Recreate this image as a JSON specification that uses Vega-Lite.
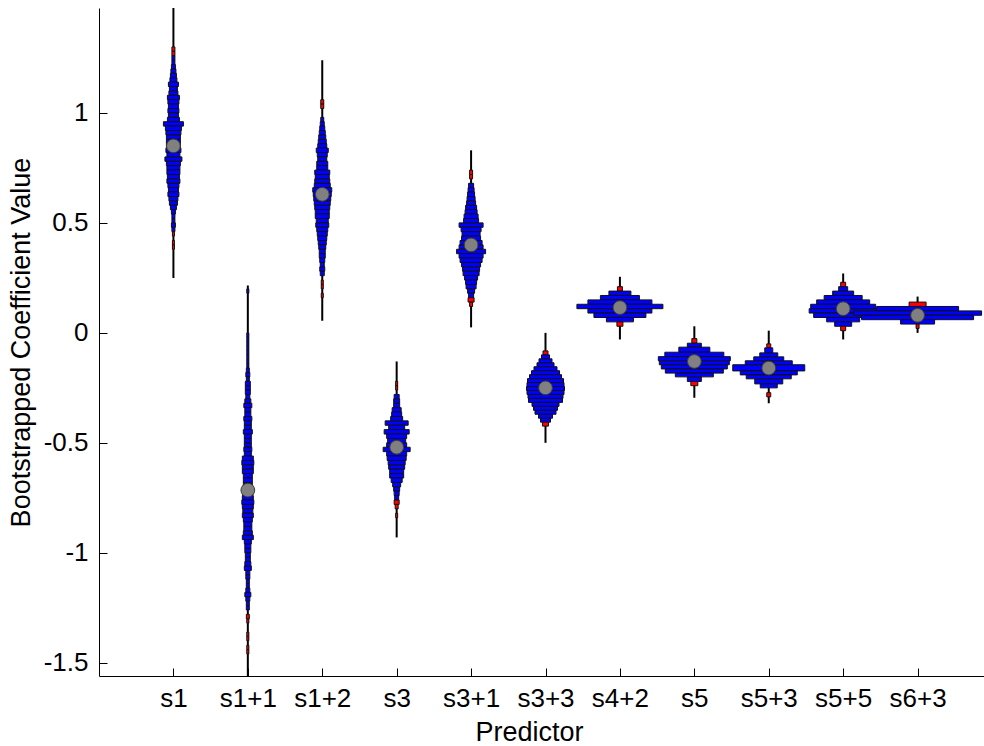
{
  "$schema": "https://vega.github.io/schema/vega-lite/v6.json",
  "autosize": {"type": "none"},
  "width": 893,
  "height": 668,
  "padding": {"left": 99, "top": 8, "right": 0, "bottom": 70},
  "background": "white",
  "config": {
    "font": "Liberation Sans",
    "view": {"stroke": null},
    "axis": {"grid": false, "domainColor": "#000000", "tickColor": "#000000", "labelColor": "#000000", "titleColor": "#000000", "titleFontWeight": "normal", "tickSize": -8, "labelFontSize": 26, "labelFont": "Liberation Sans", "titleFont": "Liberation Sans", "titleFontSize": 27},
    "axisY": {"labelPadding": 19, "titleX": -64},
    "axisX": {"labelPadding": 17, "labelAngle": 0, "titleX": 430, "titleY": 64, "titleBaseline": "alphabetic"}
  },
  "datasets": {
    "bins": [
      {"p":"s1","lo":1.28,"hi":1.30,"n":3,"t":"r"},
      {"p":"s1","lo":1.26,"hi":1.28,"n":3,"t":"r"},
      {"p":"s1","lo":1.24,"hi":1.26,"n":3,"t":"b"},
      {"p":"s1","lo":1.22,"hi":1.24,"n":3,"t":"b"},
      {"p":"s1","lo":1.20,"hi":1.22,"n":4,"t":"b"},
      {"p":"s1","lo":1.18,"hi":1.20,"n":5,"t":"b"},
      {"p":"s1","lo":1.16,"hi":1.18,"n":6,"t":"b"},
      {"p":"s1","lo":1.14,"hi":1.16,"n":7,"t":"b"},
      {"p":"s1","lo":1.12,"hi":1.14,"n":10,"t":"b"},
      {"p":"s1","lo":1.10,"hi":1.12,"n":8,"t":"b"},
      {"p":"s1","lo":1.08,"hi":1.10,"n":9,"t":"b"},
      {"p":"s1","lo":1.06,"hi":1.08,"n":12,"t":"b"},
      {"p":"s1","lo":1.04,"hi":1.06,"n":11,"t":"b"},
      {"p":"s1","lo":1.02,"hi":1.04,"n":10,"t":"b"},
      {"p":"s1","lo":1.00,"hi":1.02,"n":11,"t":"b"},
      {"p":"s1","lo":0.98,"hi":1.00,"n":10,"t":"b"},
      {"p":"s1","lo":0.96,"hi":0.98,"n":12,"t":"b"},
      {"p":"s1","lo":0.94,"hi":0.96,"n":20,"t":"b"},
      {"p":"s1","lo":0.92,"hi":0.94,"n":16,"t":"b"},
      {"p":"s1","lo":0.90,"hi":0.92,"n":15,"t":"b"},
      {"p":"s1","lo":0.88,"hi":0.90,"n":14,"t":"b"},
      {"p":"s1","lo":0.86,"hi":0.88,"n":14,"t":"b"},
      {"p":"s1","lo":0.84,"hi":0.86,"n":14,"t":"b"},
      {"p":"s1","lo":0.82,"hi":0.84,"n":15,"t":"b"},
      {"p":"s1","lo":0.80,"hi":0.82,"n":13,"t":"b"},
      {"p":"s1","lo":0.78,"hi":0.80,"n":17,"t":"b"},
      {"p":"s1","lo":0.76,"hi":0.78,"n":14,"t":"b"},
      {"p":"s1","lo":0.74,"hi":0.76,"n":13,"t":"b"},
      {"p":"s1","lo":0.72,"hi":0.74,"n":13,"t":"b"},
      {"p":"s1","lo":0.70,"hi":0.72,"n":12,"t":"b"},
      {"p":"s1","lo":0.68,"hi":0.70,"n":13,"t":"b"},
      {"p":"s1","lo":0.66,"hi":0.68,"n":11,"t":"b"},
      {"p":"s1","lo":0.64,"hi":0.66,"n":10,"t":"b"},
      {"p":"s1","lo":0.62,"hi":0.64,"n":11,"t":"b"},
      {"p":"s1","lo":0.60,"hi":0.62,"n":9,"t":"b"},
      {"p":"s1","lo":0.58,"hi":0.60,"n":8,"t":"b"},
      {"p":"s1","lo":0.56,"hi":0.58,"n":6,"t":"b"},
      {"p":"s1","lo":0.54,"hi":0.56,"n":4,"t":"b"},
      {"p":"s1","lo":0.52,"hi":0.54,"n":3,"t":"b"},
      {"p":"s1","lo":0.50,"hi":0.52,"n":3,"t":"b"},
      {"p":"s1","lo":0.48,"hi":0.50,"n":4,"t":"b"},
      {"p":"s1","lo":0.46,"hi":0.48,"n":3,"t":"b"},
      {"p":"s1","lo":0.44,"hi":0.46,"n":2,"t":"r"},
      {"p":"s1","lo":0.40,"hi":0.42,"n":2,"t":"r"},
      {"p":"s1","lo":0.38,"hi":0.40,"n":2,"t":"r"},

      {"p":"s1+1","lo":0.18,"hi":0.20,"n":2,"t":"b"},
      {"p":"s1+1","lo":-0.02,"hi":0.00,"n":2,"t":"b"},
      {"p":"s1+1","lo":-0.04,"hi":-0.02,"n":2,"t":"b"},
      {"p":"s1+1","lo":-0.06,"hi":-0.04,"n":2,"t":"b"},
      {"p":"s1+1","lo":-0.08,"hi":-0.06,"n":2,"t":"b"},
      {"p":"s1+1","lo":-0.10,"hi":-0.08,"n":2,"t":"b"},
      {"p":"s1+1","lo":-0.12,"hi":-0.10,"n":2,"t":"b"},
      {"p":"s1+1","lo":-0.14,"hi":-0.12,"n":2,"t":"b"},
      {"p":"s1+1","lo":-0.16,"hi":-0.14,"n":2,"t":"b"},
      {"p":"s1+1","lo":-0.18,"hi":-0.16,"n":3,"t":"b"},
      {"p":"s1+1","lo":-0.20,"hi":-0.18,"n":4,"t":"b"},
      {"p":"s1+1","lo":-0.22,"hi":-0.20,"n":3,"t":"b"},
      {"p":"s1+1","lo":-0.24,"hi":-0.22,"n":5,"t":"b"},
      {"p":"s1+1","lo":-0.26,"hi":-0.24,"n":5,"t":"b"},
      {"p":"s1+1","lo":-0.28,"hi":-0.26,"n":5,"t":"b"},
      {"p":"s1+1","lo":-0.30,"hi":-0.28,"n":4,"t":"b"},
      {"p":"s1+1","lo":-0.32,"hi":-0.30,"n":6,"t":"b"},
      {"p":"s1+1","lo":-0.34,"hi":-0.32,"n":8,"t":"b"},
      {"p":"s1+1","lo":-0.36,"hi":-0.34,"n":6,"t":"b"},
      {"p":"s1+1","lo":-0.38,"hi":-0.36,"n":6,"t":"b"},
      {"p":"s1+1","lo":-0.40,"hi":-0.38,"n":8,"t":"b"},
      {"p":"s1+1","lo":-0.42,"hi":-0.40,"n":7,"t":"b"},
      {"p":"s1+1","lo":-0.44,"hi":-0.42,"n":7,"t":"b"},
      {"p":"s1+1","lo":-0.46,"hi":-0.44,"n":9,"t":"b"},
      {"p":"s1+1","lo":-0.48,"hi":-0.46,"n":7,"t":"b"},
      {"p":"s1+1","lo":-0.50,"hi":-0.48,"n":7,"t":"b"},
      {"p":"s1+1","lo":-0.52,"hi":-0.50,"n":7,"t":"b"},
      {"p":"s1+1","lo":-0.54,"hi":-0.52,"n":8,"t":"b"},
      {"p":"s1+1","lo":-0.56,"hi":-0.54,"n":7,"t":"b"},
      {"p":"s1+1","lo":-0.58,"hi":-0.56,"n":11,"t":"b"},
      {"p":"s1+1","lo":-0.60,"hi":-0.58,"n":12,"t":"b"},
      {"p":"s1+1","lo":-0.62,"hi":-0.60,"n":11,"t":"b"},
      {"p":"s1+1","lo":-0.64,"hi":-0.62,"n":11,"t":"b"},
      {"p":"s1+1","lo":-0.66,"hi":-0.64,"n":9,"t":"b"},
      {"p":"s1+1","lo":-0.68,"hi":-0.66,"n":9,"t":"b"},
      {"p":"s1+1","lo":-0.70,"hi":-0.68,"n":9,"t":"b"},
      {"p":"s1+1","lo":-0.72,"hi":-0.70,"n":9,"t":"b"},
      {"p":"s1+1","lo":-0.74,"hi":-0.72,"n":10,"t":"b"},
      {"p":"s1+1","lo":-0.76,"hi":-0.74,"n":11,"t":"b"},
      {"p":"s1+1","lo":-0.78,"hi":-0.76,"n":12,"t":"b"},
      {"p":"s1+1","lo":-0.80,"hi":-0.78,"n":11,"t":"b"},
      {"p":"s1+1","lo":-0.82,"hi":-0.80,"n":10,"t":"b"},
      {"p":"s1+1","lo":-0.84,"hi":-0.82,"n":11,"t":"b"},
      {"p":"s1+1","lo":-0.86,"hi":-0.84,"n":9,"t":"b"},
      {"p":"s1+1","lo":-0.88,"hi":-0.86,"n":8,"t":"b"},
      {"p":"s1+1","lo":-0.90,"hi":-0.88,"n":8,"t":"b"},
      {"p":"s1+1","lo":-0.92,"hi":-0.90,"n":9,"t":"b"},
      {"p":"s1+1","lo":-0.94,"hi":-0.92,"n":11,"t":"b"},
      {"p":"s1+1","lo":-0.96,"hi":-0.94,"n":7,"t":"b"},
      {"p":"s1+1","lo":-0.98,"hi":-0.96,"n":6,"t":"b"},
      {"p":"s1+1","lo":-1.00,"hi":-0.98,"n":6,"t":"b"},
      {"p":"s1+1","lo":-1.02,"hi":-1.00,"n":5,"t":"b"},
      {"p":"s1+1","lo":-1.04,"hi":-1.02,"n":5,"t":"b"},
      {"p":"s1+1","lo":-1.06,"hi":-1.04,"n":6,"t":"b"},
      {"p":"s1+1","lo":-1.08,"hi":-1.06,"n":7,"t":"b"},
      {"p":"s1+1","lo":-1.10,"hi":-1.08,"n":4,"t":"b"},
      {"p":"s1+1","lo":-1.12,"hi":-1.10,"n":4,"t":"b"},
      {"p":"s1+1","lo":-1.14,"hi":-1.12,"n":3,"t":"b"},
      {"p":"s1+1","lo":-1.16,"hi":-1.14,"n":3,"t":"b"},
      {"p":"s1+1","lo":-1.18,"hi":-1.16,"n":4,"t":"b"},
      {"p":"s1+1","lo":-1.20,"hi":-1.18,"n":6,"t":"b"},
      {"p":"s1+1","lo":-1.22,"hi":-1.20,"n":4,"t":"b"},
      {"p":"s1+1","lo":-1.24,"hi":-1.22,"n":3,"t":"b"},
      {"p":"s1+1","lo":-1.26,"hi":-1.24,"n":3,"t":"b"},
      {"p":"s1+1","lo":-1.30,"hi":-1.28,"n":3,"t":"r"},
      {"p":"s1+1","lo":-1.32,"hi":-1.30,"n":2,"t":"r"},
      {"p":"s1+1","lo":-1.38,"hi":-1.36,"n":2,"t":"r"},
      {"p":"s1+1","lo":-1.40,"hi":-1.38,"n":2,"t":"r"},
      {"p":"s1+1","lo":-1.44,"hi":-1.42,"n":2,"t":"r"},
      {"p":"s1+1","lo":-1.46,"hi":-1.44,"n":2,"t":"r"},

      {"p":"s1+2","lo":1.04,"hi":1.06,"n":3,"t":"r"},
      {"p":"s1+2","lo":1.02,"hi":1.04,"n":3,"t":"r"},
      {"p":"s1+2","lo":0.96,"hi":0.98,"n":3,"t":"b"},
      {"p":"s1+2","lo":0.94,"hi":0.96,"n":4,"t":"b"},
      {"p":"s1+2","lo":0.92,"hi":0.94,"n":5,"t":"b"},
      {"p":"s1+2","lo":0.90,"hi":0.92,"n":6,"t":"b"},
      {"p":"s1+2","lo":0.88,"hi":0.90,"n":7,"t":"b"},
      {"p":"s1+2","lo":0.86,"hi":0.88,"n":8,"t":"b"},
      {"p":"s1+2","lo":0.84,"hi":0.86,"n":9,"t":"b"},
      {"p":"s1+2","lo":0.82,"hi":0.84,"n":12,"t":"b"},
      {"p":"s1+2","lo":0.80,"hi":0.82,"n":10,"t":"b"},
      {"p":"s1+2","lo":0.78,"hi":0.80,"n":9,"t":"b"},
      {"p":"s1+2","lo":0.76,"hi":0.78,"n":11,"t":"b"},
      {"p":"s1+2","lo":0.74,"hi":0.76,"n":11,"t":"b"},
      {"p":"s1+2","lo":0.72,"hi":0.74,"n":15,"t":"b"},
      {"p":"s1+2","lo":0.70,"hi":0.72,"n":14,"t":"b"},
      {"p":"s1+2","lo":0.68,"hi":0.70,"n":15,"t":"b"},
      {"p":"s1+2","lo":0.66,"hi":0.68,"n":16,"t":"b"},
      {"p":"s1+2","lo":0.64,"hi":0.66,"n":19,"t":"b"},
      {"p":"s1+2","lo":0.62,"hi":0.64,"n":18,"t":"b"},
      {"p":"s1+2","lo":0.60,"hi":0.62,"n":17,"t":"b"},
      {"p":"s1+2","lo":0.58,"hi":0.60,"n":16,"t":"b"},
      {"p":"s1+2","lo":0.56,"hi":0.58,"n":15,"t":"b"},
      {"p":"s1+2","lo":0.54,"hi":0.56,"n":14,"t":"b"},
      {"p":"s1+2","lo":0.52,"hi":0.54,"n":14,"t":"b"},
      {"p":"s1+2","lo":0.50,"hi":0.52,"n":12,"t":"b"},
      {"p":"s1+2","lo":0.48,"hi":0.50,"n":13,"t":"b"},
      {"p":"s1+2","lo":0.46,"hi":0.48,"n":11,"t":"b"},
      {"p":"s1+2","lo":0.44,"hi":0.46,"n":10,"t":"b"},
      {"p":"s1+2","lo":0.42,"hi":0.44,"n":9,"t":"b"},
      {"p":"s1+2","lo":0.40,"hi":0.42,"n":8,"t":"b"},
      {"p":"s1+2","lo":0.38,"hi":0.40,"n":7,"t":"b"},
      {"p":"s1+2","lo":0.36,"hi":0.38,"n":6,"t":"b"},
      {"p":"s1+2","lo":0.34,"hi":0.36,"n":6,"t":"b"},
      {"p":"s1+2","lo":0.32,"hi":0.34,"n":5,"t":"b"},
      {"p":"s1+2","lo":0.30,"hi":0.32,"n":4,"t":"b"},
      {"p":"s1+2","lo":0.28,"hi":0.30,"n":5,"t":"b"},
      {"p":"s1+2","lo":0.26,"hi":0.28,"n":4,"t":"b"},
      {"p":"s1+2","lo":0.22,"hi":0.24,"n":2,"t":"r"},
      {"p":"s1+2","lo":0.20,"hi":0.22,"n":2,"t":"r"},
      {"p":"s1+2","lo":0.16,"hi":0.18,"n":2,"t":"r"},

      {"p":"s3","lo":-0.24,"hi":-0.22,"n":2,"t":"r"},
      {"p":"s3","lo":-0.26,"hi":-0.24,"n":2,"t":"r"},
      {"p":"s3","lo":-0.30,"hi":-0.28,"n":5,"t":"b"},
      {"p":"s3","lo":-0.32,"hi":-0.30,"n":6,"t":"b"},
      {"p":"s3","lo":-0.34,"hi":-0.32,"n":6,"t":"b"},
      {"p":"s3","lo":-0.36,"hi":-0.34,"n":9,"t":"b"},
      {"p":"s3","lo":-0.38,"hi":-0.36,"n":10,"t":"b"},
      {"p":"s3","lo":-0.40,"hi":-0.38,"n":12,"t":"b"},
      {"p":"s3","lo":-0.42,"hi":-0.40,"n":23,"t":"b"},
      {"p":"s3","lo":-0.44,"hi":-0.42,"n":16,"t":"b"},
      {"p":"s3","lo":-0.46,"hi":-0.44,"n":25,"t":"b"},
      {"p":"s3","lo":-0.48,"hi":-0.46,"n":20,"t":"b"},
      {"p":"s3","lo":-0.50,"hi":-0.48,"n":18,"t":"b"},
      {"p":"s3","lo":-0.52,"hi":-0.50,"n":20,"t":"b"},
      {"p":"s3","lo":-0.54,"hi":-0.52,"n":27,"t":"b"},
      {"p":"s3","lo":-0.56,"hi":-0.54,"n":20,"t":"b"},
      {"p":"s3","lo":-0.58,"hi":-0.56,"n":19,"t":"b"},
      {"p":"s3","lo":-0.60,"hi":-0.58,"n":17,"t":"b"},
      {"p":"s3","lo":-0.62,"hi":-0.60,"n":16,"t":"b"},
      {"p":"s3","lo":-0.64,"hi":-0.62,"n":14,"t":"b"},
      {"p":"s3","lo":-0.66,"hi":-0.64,"n":14,"t":"b"},
      {"p":"s3","lo":-0.68,"hi":-0.66,"n":11,"t":"b"},
      {"p":"s3","lo":-0.70,"hi":-0.68,"n":8,"t":"b"},
      {"p":"s3","lo":-0.72,"hi":-0.70,"n":6,"t":"b"},
      {"p":"s3","lo":-0.74,"hi":-0.72,"n":5,"t":"b"},
      {"p":"s3","lo":-0.76,"hi":-0.74,"n":4,"t":"b"},
      {"p":"s3","lo":-0.78,"hi":-0.76,"n":5,"t":"r"},
      {"p":"s3","lo":-0.80,"hi":-0.78,"n":3,"t":"r"},
      {"p":"s3","lo":-0.84,"hi":-0.82,"n":2,"t":"r"},

      {"p":"s3+1","lo":0.72,"hi":0.74,"n":3,"t":"r"},
      {"p":"s3+1","lo":0.70,"hi":0.72,"n":3,"t":"r"},
      {"p":"s3+1","lo":0.66,"hi":0.68,"n":5,"t":"b"},
      {"p":"s3+1","lo":0.64,"hi":0.66,"n":6,"t":"b"},
      {"p":"s3+1","lo":0.62,"hi":0.64,"n":7,"t":"b"},
      {"p":"s3+1","lo":0.60,"hi":0.62,"n":8,"t":"b"},
      {"p":"s3+1","lo":0.58,"hi":0.60,"n":9,"t":"b"},
      {"p":"s3+1","lo":0.56,"hi":0.58,"n":11,"t":"b"},
      {"p":"s3+1","lo":0.54,"hi":0.56,"n":12,"t":"b"},
      {"p":"s3+1","lo":0.52,"hi":0.54,"n":14,"t":"b"},
      {"p":"s3+1","lo":0.50,"hi":0.52,"n":15,"t":"b"},
      {"p":"s3+1","lo":0.48,"hi":0.50,"n":24,"t":"b"},
      {"p":"s3+1","lo":0.46,"hi":0.48,"n":20,"t":"b"},
      {"p":"s3+1","lo":0.44,"hi":0.46,"n":18,"t":"b"},
      {"p":"s3+1","lo":0.42,"hi":0.44,"n":19,"t":"b"},
      {"p":"s3+1","lo":0.40,"hi":0.42,"n":22,"t":"b"},
      {"p":"s3+1","lo":0.38,"hi":0.40,"n":24,"t":"b"},
      {"p":"s3+1","lo":0.36,"hi":0.38,"n":29,"t":"b"},
      {"p":"s3+1","lo":0.34,"hi":0.36,"n":24,"t":"b"},
      {"p":"s3+1","lo":0.32,"hi":0.34,"n":22,"t":"b"},
      {"p":"s3+1","lo":0.30,"hi":0.32,"n":19,"t":"b"},
      {"p":"s3+1","lo":0.28,"hi":0.30,"n":17,"t":"b"},
      {"p":"s3+1","lo":0.26,"hi":0.28,"n":16,"t":"b"},
      {"p":"s3+1","lo":0.24,"hi":0.26,"n":13,"t":"b"},
      {"p":"s3+1","lo":0.22,"hi":0.24,"n":11,"t":"b"},
      {"p":"s3+1","lo":0.20,"hi":0.22,"n":10,"t":"b"},
      {"p":"s3+1","lo":0.18,"hi":0.20,"n":7,"t":"b"},
      {"p":"s3+1","lo":0.16,"hi":0.18,"n":5,"t":"b"},
      {"p":"s3+1","lo":0.14,"hi":0.16,"n":6,"t":"r"},
      {"p":"s3+1","lo":0.12,"hi":0.14,"n":3,"t":"r"},

      {"p":"s3+3","lo":-0.100,"hi":-0.082,"n":5,"t":"r"},
      {"p":"s3+3","lo":-0.118,"hi":-0.100,"n":8,"t":"b"},
      {"p":"s3+3","lo":-0.136,"hi":-0.118,"n":13,"t":"b"},
      {"p":"s3+3","lo":-0.154,"hi":-0.136,"n":17,"t":"b"},
      {"p":"s3+3","lo":-0.172,"hi":-0.154,"n":23,"t":"b"},
      {"p":"s3+3","lo":-0.190,"hi":-0.172,"n":28,"t":"b"},
      {"p":"s3+3","lo":-0.208,"hi":-0.190,"n":32,"t":"b"},
      {"p":"s3+3","lo":-0.226,"hi":-0.208,"n":36,"t":"b"},
      {"p":"s3+3","lo":-0.244,"hi":-0.226,"n":37,"t":"b"},
      {"p":"s3+3","lo":-0.262,"hi":-0.244,"n":38,"t":"b"},
      {"p":"s3+3","lo":-0.280,"hi":-0.262,"n":37,"t":"b"},
      {"p":"s3+3","lo":-0.298,"hi":-0.280,"n":35,"t":"b"},
      {"p":"s3+3","lo":-0.316,"hi":-0.298,"n":34,"t":"b"},
      {"p":"s3+3","lo":-0.334,"hi":-0.316,"n":27,"t":"b"},
      {"p":"s3+3","lo":-0.352,"hi":-0.334,"n":24,"t":"b"},
      {"p":"s3+3","lo":-0.370,"hi":-0.352,"n":21,"t":"b"},
      {"p":"s3+3","lo":-0.388,"hi":-0.370,"n":14,"t":"b"},
      {"p":"s3+3","lo":-0.406,"hi":-0.388,"n":10,"t":"b"},
      {"p":"s3+3","lo":-0.424,"hi":-0.406,"n":6,"t":"r"},

      {"p":"s4+2","lo":0.19,"hi":0.21,"n":5,"t":"r"},
      {"p":"s4+2","lo":0.17,"hi":0.19,"n":22,"t":"b"},
      {"p":"s4+2","lo":0.15,"hi":0.17,"n":39,"t":"b"},
      {"p":"s4+2","lo":0.13,"hi":0.15,"n":64,"t":"b"},
      {"p":"s4+2","lo":0.11,"hi":0.13,"n":86,"t":"b"},
      {"p":"s4+2","lo":0.09,"hi":0.11,"n":64,"t":"b"},
      {"p":"s4+2","lo":0.07,"hi":0.09,"n":52,"t":"b"},
      {"p":"s4+2","lo":0.05,"hi":0.07,"n":27,"t":"b"},
      {"p":"s4+2","lo":0.03,"hi":0.05,"n":6,"t":"r"},

      {"p":"s5","lo":-0.047,"hi":-0.026,"n":5,"t":"r"},
      {"p":"s5","lo":-0.065,"hi":-0.047,"n":14,"t":"b"},
      {"p":"s5","lo":-0.088,"hi":-0.065,"n":31,"t":"b"},
      {"p":"s5","lo":-0.108,"hi":-0.088,"n":59,"t":"b"},
      {"p":"s5","lo":-0.127,"hi":-0.108,"n":72,"t":"b"},
      {"p":"s5","lo":-0.145,"hi":-0.127,"n":70,"t":"b"},
      {"p":"s5","lo":-0.164,"hi":-0.145,"n":66,"t":"b"},
      {"p":"s5","lo":-0.183,"hi":-0.164,"n":58,"t":"b"},
      {"p":"s5","lo":-0.200,"hi":-0.183,"n":38,"t":"b"},
      {"p":"s5","lo":-0.221,"hi":-0.200,"n":14,"t":"b"},
      {"p":"s5","lo":-0.240,"hi":-0.221,"n":7,"t":"r"},

      {"p":"s5+3","lo":-0.068,"hi":-0.050,"n":4,"t":"r"},
      {"p":"s5+3","lo":-0.091,"hi":-0.068,"n":8,"t":"b"},
      {"p":"s5+3","lo":-0.109,"hi":-0.091,"n":18,"t":"b"},
      {"p":"s5+3","lo":-0.127,"hi":-0.109,"n":30,"t":"b"},
      {"p":"s5+3","lo":-0.145,"hi":-0.127,"n":47,"t":"b"},
      {"p":"s5+3","lo":-0.173,"hi":-0.145,"n":72,"t":"b"},
      {"p":"s5+3","lo":-0.191,"hi":-0.173,"n":57,"t":"b"},
      {"p":"s5+3","lo":-0.209,"hi":-0.191,"n":45,"t":"b"},
      {"p":"s5+3","lo":-0.232,"hi":-0.209,"n":28,"t":"b"},
      {"p":"s5+3","lo":-0.250,"hi":-0.232,"n":17,"t":"b"},
      {"p":"s5+3","lo":-0.291,"hi":-0.272,"n":4,"t":"r"},

      {"p":"s5+5","lo":0.21,"hi":0.23,"n":5,"t":"r"},
      {"p":"s5+5","lo":0.19,"hi":0.21,"n":9,"t":"b"},
      {"p":"s5+5","lo":0.17,"hi":0.19,"n":21,"t":"b"},
      {"p":"s5+5","lo":0.15,"hi":0.17,"n":38,"t":"b"},
      {"p":"s5+5","lo":0.13,"hi":0.15,"n":53,"t":"b"},
      {"p":"s5+5","lo":0.11,"hi":0.13,"n":65,"t":"b"},
      {"p":"s5+5","lo":0.09,"hi":0.11,"n":68,"t":"b"},
      {"p":"s5+5","lo":0.07,"hi":0.09,"n":59,"t":"b"},
      {"p":"s5+5","lo":0.05,"hi":0.07,"n":33,"t":"b"},
      {"p":"s5+5","lo":0.03,"hi":0.05,"n":17,"t":"b"},
      {"p":"s5+5","lo":0.01,"hi":0.03,"n":5,"t":"r"},

      {"p":"s6+3","lo":0.12,"hi":0.14,"n":17,"t":"r"},
      {"p":"s6+3","lo":0.10,"hi":0.12,"n":82,"t":"b"},
      {"p":"s6+3","lo":0.08,"hi":0.10,"n":128,"t":"b"},
      {"p":"s6+3","lo":0.06,"hi":0.08,"n":112,"t":"b"},
      {"p":"s6+3","lo":0.04,"hi":0.06,"n":34,"t":"b"},
      {"p":"s6+3","lo":0.02,"hi":0.04,"n":3,"t":"r"}
    ],
    "summ": [
      {"p":"s1","min":0.25,"max":1.50,"med":0.85},
      {"p":"s1+1","min":-1.60,"max":0.215,"med":-0.715},
      {"p":"s1+2","min":0.055,"max":1.24,"med":0.63},
      {"p":"s3","min":-0.93,"max":-0.13,"med":-0.52},
      {"p":"s3+1","min":0.025,"max":0.83,"med":0.40},
      {"p":"s3+3","min":-0.50,"max":0.0,"med":-0.25},
      {"p":"s4+2","min":-0.03,"max":0.255,"med":0.115},
      {"p":"s5","min":-0.295,"max":0.03,"med":-0.13},
      {"p":"s5+3","min":-0.32,"max":0.01,"med":-0.16},
      {"p":"s5+5","min":-0.03,"max":0.27,"med":0.11},
      {"p":"s6+3","min":0.0,"max":0.165,"med":0.08}
    ]
  },
  "layer": [
    {
      "mark": {"type": "rule", "color": "#33cc33", "strokeDash": [1.5, 2.5], "strokeWidth": 1},
      "encoding": {
        "y": {"datum": 0, "type": "quantitative", "scale": {"domain": [-1.56, 1.477], "nice": false, "zero": false}, "title": "Bootstrapped Coefficient Value", "axis": {"values": [-1.5, -1, -0.5, 0, 0.5, 1], "labelExpr": "'' + datum.value", "tickSize": -8}}
      }
    },
    {
      "data": {"name": "summ"},
      "mark": {"type": "rule", "color": "#000000", "strokeWidth": 2, "clip": true},
      "encoding": {
        "x": {"field": "p", "type": "nominal", "scale": {"type": "point", "padding": 1, "domain": ["s1","s1+1","s1+2","s3","s3+1","s3+3","s4+2","s5","s5+3","s5+5","s6+3"]}, "title": "Predictor", "axis": {"tickSize": -8}},
        "y": {"field": "min", "type": "quantitative", "title": "Bootstrapped Coefficient Value"},
        "y2": {"field": "max"}
      }
    },
    {
      "data": {"name": "bins"},
      "mark": {"type": "bar", "stroke": "#111111", "strokeWidth": 1, "clip": true},
      "encoding": {
        "x": {"field": "p", "type": "nominal", "title": "Predictor"},
        "y": {"field": "lo", "type": "quantitative", "title": "Bootstrapped Coefficient Value"},
        "y2": {"field": "hi"},
        "size": {"field": "n", "type": "quantitative", "scale": {"type": "linear", "domain": [0, 100], "range": [0, 100], "zero": true}, "legend": null},
        "color": {"field": "t", "type": "nominal", "scale": {"domain": ["b", "r"], "range": ["#0000ff", "#ff0000"]}, "legend": null}
      }
    },
    {
      "data": {"name": "summ"},
      "mark": {"type": "point", "shape": "circle", "filled": true, "size": 190, "fill": "#808080", "stroke": "#3a3a3a", "strokeWidth": 1, "opacity": 1},
      "encoding": {
        "x": {"field": "p", "type": "nominal", "title": "Predictor"},
        "y": {"field": "med", "type": "quantitative", "title": "Bootstrapped Coefficient Value"}
      }
    }
  ]
}
